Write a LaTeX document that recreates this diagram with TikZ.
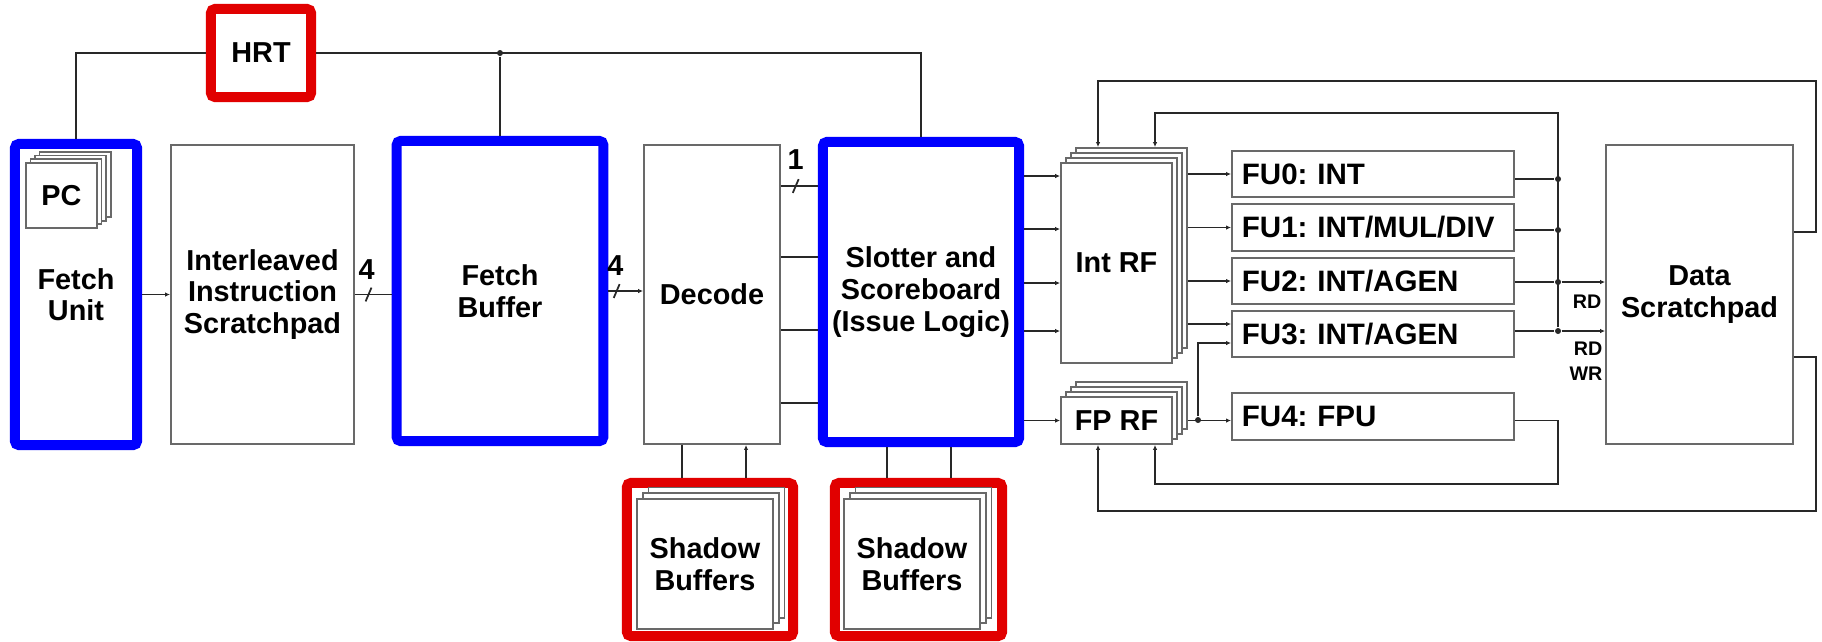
\documentclass[tikz,border=0pt]{standalone}
\usepackage{fontspec}
\setmainfont{Liberation Sans}
\usetikzlibrary{arrows.meta, shadows}
\definecolor{issueblue}{RGB}{0, 0, 255}
\definecolor{issuered}{RGB}{225, 0, 0}
\definecolor{issuegray}{RGB}{105, 105, 105}
\definecolor{issueline}{RGB}{40, 40, 40}
\newcommand{\rbf}{\bfseries\fontsize{8.2}{9}\selectfont}
\newcommand{\fubf}{\frenchspacing\bfseries\fontsize{8.4}{9}\selectfont}
\newcommand{\portbf}{\bfseries\fontsize{5.6}{7}\selectfont}

\begin{document}
\begin{tikzpicture}[x=0.01cm, y=-0.01cm,
        blk/.style={draw=issuegray, fill=white, line width=0.5pt, inner sep=0pt, align=center, font=\rbf},
        cold/.style={draw=issueblue, fill=white, line width=0.1cm, rounded corners=0.04cm, inner sep=0pt, align=center, font=\rbf},
        hot/.style={draw=issuered, fill=white, line width=0.1cm, rounded corners=0.04cm, inner sep=0pt, font=\rbf},
        pile/.style={blk,
          general shadow={draw=issuegray, fill=white, shadow xshift=0.15cm, shadow yshift=0.15cm},
          general shadow={draw=issuegray, fill=white, shadow xshift=0.10cm, shadow yshift=0.10cm},
          general shadow={draw=issuegray, fill=white, shadow xshift=0.05cm, shadow yshift=0.05cm}},
        pcpile/.style={blk,
          general shadow={draw=issuegray, fill=white, shadow xshift=0.138cm, shadow yshift=0.11cm},
          general shadow={draw=issuegray, fill=white, shadow xshift=0.092cm, shadow yshift=0.074cm},
          general shadow={draw=issuegray, fill=white, shadow xshift=0.046cm, shadow yshift=0.037cm}},
        sbpile/.style={blk,
          general shadow={draw=issuegray, fill=white, shadow xshift=0.114cm, shadow yshift=0.114cm},
          general shadow={draw=issuegray, fill=white, shadow xshift=0.057cm, shadow yshift=0.057cm}},
        fustage/.style={blk, minimum width=2.82cm, minimum height=0.465cm, text width=2.62cm, align=left, font=\fubf},
        wire/.style={draw=issueline, line width=0.5pt},
        arr/.style={wire, -{Latex[length=0.5mm, width=0.45mm]}},
        dot/.style={circle, fill=issueline, inner sep=0pt, minimum size=0.06cm},
        slash/.style={draw=issueline, line width=0.5pt, inner sep=0pt, minimum width=0pt, minimum height=0.15cm, rotate=-23},
        numlab/.style={font=\rbf, inner sep=0pt}
      ]
        \useasboundingbox (0,0) rectangle (1822,641);

        % front end
        \node[hot, minimum width=1.00cm, minimum height=0.88cm] (hrt) at (261,53) {HRT};
        \node[cold, minimum width=1.22cm, minimum height=3.01cm] (fetch) at (76,294.5) {Fetch\\Unit};
        \node[pcpile, minimum width=0.71cm, minimum height=0.65cm] (pc) at (61.3,195.5) {PC};
        \node[blk, minimum width=1.83cm, minimum height=2.99cm] (isp) at (262.5,294.5) {Interleaved\\Instruction\\Scratchpad};
        \node[cold, minimum width=2.065cm, minimum height=3.00cm] (fbuf) at (500,291) {Fetch\\Buffer};
        \node[blk, minimum width=1.36cm, minimum height=2.99cm] (dec) at (712,294.5) {Decode};
        \node[cold, minimum width=1.96cm, minimum height=3.00cm] (slot) at (921,292) {Slotter and\\Scoreboard\\(Issue Logic)};

        % shadow buffers
        \node[hot, minimum width=1.66cm, minimum height=1.53cm] (sb1) at (710,559.5) {};
        \node[sbpile, minimum width=1.36cm, minimum height=1.30cm] (sbuf1) at (705,564) {Shadow\\Buffers};
        \node[hot, minimum width=1.67cm, minimum height=1.53cm] (sb2) at (918.5,559.5) {};
        \node[sbpile, minimum width=1.36cm, minimum height=1.30cm] (sbuf2) at (912,564) {Shadow\\Buffers};

        % back end
        \node[pile, minimum width=1.11cm, minimum height=2.00cm] (irf) at (1116.5,263) {Int RF};
        \node[pile, minimum width=1.11cm, minimum height=0.47cm] (frf) at (1116.5,420.5) {FP RF};
        \node[fustage] (fu0) at (1373,174) {FU0: INT};
        \node[fustage] (fu1) at (1373,227.5) {FU1: INT/MUL/DIV};
        \node[fustage] (fu2) at (1373,281) {FU2: INT/AGEN};
        \node[fustage] (fu3) at (1373,334) {FU3: INT/AGEN};
        \node[fustage] (fu4) at (1373,416.5) {FU4: FPU};
        \node[blk, minimum width=1.87cm, minimum height=2.99cm] (dsp) at (1699.5,294.5) {Data\\Scratchpad};

        % thread select
        \node[dot] (j0) at (fbuf.north |- hrt.east) {};
        \draw[wire] (fetch.north) |- (hrt.west);
        \draw[wire] (hrt.east) -| (slot.north);
        \draw[wire] (j0) -- (fbuf.north);

        % fetch path
        \draw[arr] (fetch) -- (isp);
        \draw[wire] (isp.east) -- node[pos=0.37, slash] {} node[pos=0.32, yshift=0.25cm, numlab] {4} (isp.east -| fbuf.west);
        \draw[arr] (fbuf.east) -- node[pos=0.24, slash] {} node[pos=0.2, yshift=0.25cm, numlab] {4} (fbuf.east -| dec.west);
        \draw[wire] (dec.east |- 0,186) -- node[pos=0.4, slash] {} node[pos=0.4, yshift=0.26cm, numlab] {1} (slot.west |- 0,186);
        \foreach \y in {257,330,403}
          \draw[wire] (dec.east |- 0,\y) -- (slot.west |- 0,\y);

        % shadow buffer links
        \draw[wire] (dec.south -| 682,0) -- (sb1.north -| 682,0);
        \draw[arr] (sb1.north -| 746,0) -- (dec.south -| 746,0);
        \draw[wire] (slot.south -| 887,0) -- (sb2.north -| 887,0);
        \draw[wire] (slot.south -| 951,0) -- (sb2.north -| 951,0);

        % issue to register files
        \foreach \y in {176,229,283,331}
          \draw[arr] (slot.east |- 0,\y) -- (irf.west |- 0,\y);
        \draw[arr] (slot.east |- frf.west) -- (frf.west);

        % register files to units
        \coordinate (irfo) at ([xshift=0.15cm]irf.east);
        \coordinate (frfo) at ([xshift=0.15cm]frf.east);
        \coordinate (irft) at ([yshift=0.15cm]irf.north);
        \draw[arr] (irfo |- fu0.west) -- (fu0.west);
        \draw[arr] (irfo |- fu1.west) -- (fu1.west);
        \draw[arr] (irfo |- fu2.west) -- (fu2.west);
        \draw[arr] (irfo |- 0,324) -- (fu3.west |- 0,324);
        \node[dot] (j1) at (1198,420) {};
        \draw[arr] (frfo |- frf.east) -- (fu4.west |- frf.east);
        \draw[arr] (j1) |- (fu3.west |- 0,343);

        % result bus
        \node[dot] (b0) at (1558,179) {};
        \node[dot] (b1) at (1558,230) {};
        \node[dot] (b2) at (1558,282) {};
        \node[dot] (b3) at (1558,331) {};
        \draw[wire] (fu0.east |- b0) -- (b0);
        \draw[wire] (fu1.east |- b1) -- (b1);
        \draw[wire] (fu2.east |- b2) -- (b2);
        \draw[wire] (fu3.east |- b3) -- (b3);
        \draw[arr] (b3) |- (1155,113) -- (irft -| 1155,0);
        \draw[arr] (b2) -- (dsp.west |- b2);
        \draw[arr] (b3) -- (dsp.west |- b3);
        \node[numlab, font=\portbf, anchor=east] (rd) at (1602,302) {RD};
        \node[numlab, font=\portbf, anchor=east, align=right] (rdwr) at (1603,361) {RD\\WR};

        % write back
        \draw[arr] (dsp.east |- 0,232) -- (1816,232) |- (1098,81) -- (irft -| 1098,0);
        \draw[arr] (dsp.east |- 0,357) -- (1816,357) |- (1098,511) -- (frf.south -| 1098,0);
        \draw[arr] (fu4.east |- frf.east) -| (1558,484) -| (frf.south -| 1155,0);
      \end{tikzpicture}
\end{document}
